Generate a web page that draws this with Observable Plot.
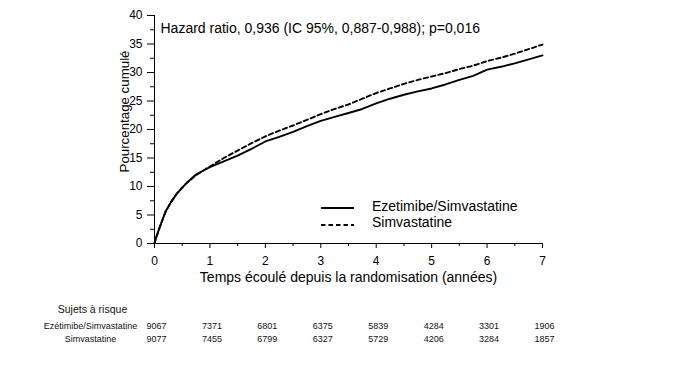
<!DOCTYPE html>
<html>
<head>
<meta charset="utf-8">
<script src="https://cdn.jsdelivr.net/npm/d3@7"></script>
<script src="https://cdn.jsdelivr.net/npm/@observablehq/plot@0.6"></script>
<style>
  html, body { margin: 0; padding: 0; background: #fff; }
  #chart { width: 675px; height: 387px; position: relative; font-family: "Liberation Sans", Arial, sans-serif; }
  #chart svg { display: block; }
</style>
</head>
<body>
<div id="chart"></div>
<script>
// ---- Data ----
const times = [0, 0.02, 0.05, 0.1, 0.15, 0.2, 0.3, 0.4, 0.5, 0.6, 0.75, 0.9, 1.0, 1.25, 1.5, 1.75, 2.0, 2.25, 2.5, 2.75, 3.0, 3.25, 3.5, 3.75, 4.0, 4.25, 4.5, 4.75, 5.0, 5.25, 5.5, 5.75, 6.0, 6.25, 6.5, 6.75, 7.0];
const ezetimibe = [0, 0.8, 1.6, 3.0, 4.3, 5.6, 7.3, 8.7, 9.8, 10.8, 12.1, 12.9, 13.4, 14.4, 15.4, 16.6, 17.9, 18.7, 19.6, 20.6, 21.5, 22.2, 22.9, 23.6, 24.6, 25.4, 26.1, 26.7, 27.2, 27.9, 28.7, 29.4, 30.5, 31.0, 31.6, 32.3, 33.0];
const simvastatine = [0, 0.8, 1.6, 3.0, 4.3, 5.6, 7.3, 8.7, 9.8, 10.8, 12.0, 12.9, 13.5, 15.0, 16.3, 17.6, 18.8, 19.8, 20.7, 21.7, 22.7, 23.6, 24.4, 25.4, 26.4, 27.2, 28.0, 28.7, 29.3, 29.9, 30.6, 31.2, 32.0, 32.6, 33.3, 34.1, 34.9];
const seriesNames = ["Ezetimibe/Simvastatine", "Simvastatine"];

const yTicks = [0, 5, 10, 15, 20, 25, 30, 35, 40];
const yMinorTicks = [2.5, 7.5, 12.5, 17.5, 22.5, 27.5, 32.5, 37.5];
const xTicks = [0, 1, 2, 3, 4, 5, 6, 7];
const xMinorTicks = [0.5, 1.5, 2.5, 3.5, 4.5, 5.5, 6.5];

const riskYears = [0, 1, 2, 3, 4, 5, 6, 7];
const riskRows = ["Ezétimibe/Simvastatine", "Simvastatine"];
const riskEzetimibe = [9067, 7371, 6801, 6375, 5839, 4284, 3301, 1906];
const riskSimvastatine = [9077, 7455, 6799, 6327, 5729, 4206, 3284, 1857];

const xTitle = "Temps écoulé depuis la randomisation (années)";
const yTitle = "Pourcentage cumulé";
const hazardText = "Hazard ratio, 0,936 (IC 95%, 0,887-0,988); p=0,016";
const riskHeader = "Sujets à risque";

// ---- Build tables ----
const curveData = [
  ...times.map((t, i) => ({t, v: ezetimibe[i], s: seriesNames[0]})),
  ...times.map((t, i) => ({t, v: simvastatine[i], s: seriesNames[1]}))
];
const riskData = [
  ...riskYears.map((t, i) => ({t, row: riskRows[0], n: riskEzetimibe[i]})),
  ...riskYears.map((t, i) => ({t, row: riskRows[1], n: riskSimvastatine[i]}))
];

const font = '"Liberation Sans", Arial, sans-serif';

const main = Plot.plot({
  width: 675,
  height: 290,
  marginLeft: 154,
  marginRight: 133,
  marginTop: 15,
  marginBottom: 47,
  style: {fontFamily: font, color: "#000", background: "#fff", overflow: "visible"},
  x: {domain: [0, 7]},
  y: {domain: [0, 40]},
  marks: [
    Plot.axisY({ticks: yTicks, tickSize: 7, tickPadding: 5, fontSize: 12, tickFormat: "d", label: null}),
    Plot.axisY({ticks: yMinorTicks, tickSize: 4, text: null, label: null}),
    Plot.axisX({ticks: xTicks, tickSize: 5, tickPadding: 8, fontSize: 12, tickFormat: "d", label: null}),
    Plot.axisX({ticks: xMinorTicks, tickSize: 3, text: null, label: null}),
    Plot.ruleX([0], {stroke: "#000", strokeWidth: 1}),
    Plot.ruleY([0], {stroke: "#000", strokeWidth: 1}),
    Plot.line(curveData.filter(d => d.s === seriesNames[1]), {x: "t", y: "v", stroke: "#000", strokeWidth: 1.9, strokeDasharray: "4.5,3"}),
    Plot.line(curveData.filter(d => d.s === seriesNames[0]), {x: "t", y: "v", stroke: "#000", strokeWidth: 1.9}),
    Plot.text([xTitle], {frameAnchor: "bottom", dy: 34, fontSize: 14, textAnchor: "middle", lineAnchor: "middle", fill: "#000"}),
    Plot.text([yTitle], {frameAnchor: "left", rotate: -90, dx: -30, dy: -18, fontSize: 13.3, textAnchor: "middle", lineAnchor: "middle", fill: "#000"}),
    Plot.text([hazardText], {frameAnchor: "top-left", dx: 6, dy: 13, fontSize: 14, textAnchor: "start", lineAnchor: "middle", fill: "#000"})
  ]
});

// legend (inside plot area)
const svg = d3.select(main);
const lg = svg.append("g").attr("text-anchor", "start");
const legendItems = [
  {label: seriesNames[0], dash: null, ly: 208, ty: 206.5},
  {label: seriesNames[1], dash: "4.5,3", ly: 225, ty: 222.5}
];
legendItems.forEach(it => {
  lg.append("line").attr("x1", 321).attr("x2", 354).attr("y1", it.ly).attr("y2", it.ly)
    .attr("stroke", "#000").attr("stroke-width", 1.9).attr("stroke-dasharray", it.dash);
  lg.append("text").attr("x", 372).attr("y", it.ty).attr("dy", "0.35em")
    .attr("text-anchor", "start")
    .attr("font-size", 14).attr("font-family", font).attr("fill", "#000").text(it.label);
});

const table = Plot.plot({
  width: 675,
  height: 97,
  marginLeft: 154,
  marginRight: 133,
  marginTop: 36,
  marginBottom: 47.5,
  style: {fontFamily: font, color: "#000", background: "#fff", overflow: "visible"},
  x: {domain: [0, 7], axis: null},
  y: {domain: riskRows, type: "point", padding: 0, axis: null},
  marks: [
    Plot.text(riskData, {x: "t", y: "row", text: d => String(d.n), fontSize: 9, dx: 2, fill: "#111"}),
    Plot.text(riskRows, {y: d => d, frameAnchor: "left", dx: -64, textAnchor: "middle", fontSize: 9, fill: "#111"}),
    Plot.text([riskHeader], {frameAnchor: "top-left", dx: -62, dy: -17, textAnchor: "middle", lineAnchor: "middle", fontSize: 10.5, fill: "#111"})
  ]
});

const host = document.getElementById("chart");
host.appendChild(main);
host.appendChild(table);
</script>
</body>
</html>
